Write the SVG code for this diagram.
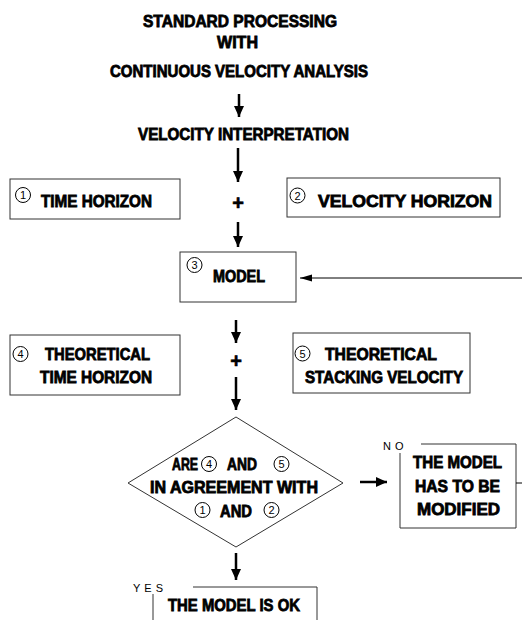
<svg xmlns="http://www.w3.org/2000/svg" width="525" height="620" viewBox="0 0 525 620">
<style>
.t{font-family:"Liberation Sans",Arial,sans-serif;font-weight:bold;font-size:16.5px;fill:#000;stroke:#000;stroke-width:0.8;}
.s{font-family:"Liberation Sans",Arial,sans-serif;font-size:11px;fill:#000;}
.n{font-family:"Liberation Sans",Arial,sans-serif;font-size:11px;fill:#000;text-anchor:middle;}
.b{fill:none;stroke:#333;stroke-width:1;}
.c{fill:none;stroke:#000;stroke-width:1;}
.a{stroke:#000;stroke-width:2.5;fill:none;}
.f{stroke:#000;stroke-width:1;fill:none;}
.p{font-family:"Liberation Sans",Arial,sans-serif;font-weight:bold;font-size:20px;fill:#000;stroke:#000;stroke-width:0.6;text-anchor:middle;}
</style>
<defs>
<marker id="ah" markerUnits="userSpaceOnUse" markerWidth="12" markerHeight="12" refX="11" refY="5" orient="auto">
<path d="M0,0 L11,5 L0,10 Z" fill="#000"/>
</marker>
<marker id="ahs" markerUnits="userSpaceOnUse" markerWidth="12" markerHeight="8" refX="12" refY="3.5" orient="auto">
<path d="M0,0 L12,3.5 L0,7 Z" fill="#000"/>
</marker>
</defs>
<rect width="525" height="620" fill="#fff"/>

<g id="start">
<text class="t" x="143" y="27" textLength="194" lengthAdjust="spacingAndGlyphs">STANDARD PROCESSING</text>
<text class="t" x="217" y="48" textLength="41" lengthAdjust="spacingAndGlyphs">WITH</text>
<text class="t" x="110" y="77" textLength="258" lengthAdjust="spacingAndGlyphs">CONTINUOUS VELOCITY ANALYSIS</text>
</g>

<g id="interp">
<text class="t" x="138" y="140" textLength="211" lengthAdjust="spacingAndGlyphs">VELOCITY INTERPRETATION</text>
</g>

<g id="n1">
<rect class="b" x="10" y="179" width="170" height="40"/>
<circle class="c" cx="23" cy="195" r="7.5"/>
<text class="n" x="23" y="199">1</text>
<text class="t" x="41" y="207" textLength="111" lengthAdjust="spacingAndGlyphs">TIME HORIZON</text>
</g>

<g id="n2">
<rect class="b" x="287" y="178" width="213" height="39"/>
<circle class="c" cx="297.5" cy="195.5" r="7.5"/>
<text class="n" x="297.5" y="199.5">2</text>
<text class="t" x="318" y="207" textLength="174" lengthAdjust="spacingAndGlyphs">VELOCITY HORIZON</text>
</g>

<g id="plus1"><text class="p" x="238" y="210">+</text></g>

<g id="n3">
<rect class="b" x="180" y="252" width="116" height="50"/>
<circle class="c" cx="194.5" cy="265" r="7.5"/>
<text class="n" x="194.5" y="269">3</text>
<text class="t" x="213" y="282" textLength="52" lengthAdjust="spacingAndGlyphs">MODEL</text>
</g>

<g id="n4">
<rect class="b" x="10" y="335" width="170" height="60"/>
<circle class="c" cx="20.5" cy="354" r="7.5"/>
<text class="n" x="20.5" y="358">4</text>
<text class="t" x="45" y="360" textLength="105" lengthAdjust="spacingAndGlyphs">THEORETICAL</text>
<text class="t" x="40" y="383" textLength="112" lengthAdjust="spacingAndGlyphs">TIME HORIZON</text>
</g>

<g id="n5">
<rect class="b" x="293" y="333" width="177" height="60"/>
<circle class="c" cx="302.5" cy="353.5" r="7.5"/>
<text class="n" x="302.5" y="357.5">5</text>
<text class="t" x="325" y="360" textLength="112" lengthAdjust="spacingAndGlyphs">THEORETICAL</text>
<text class="t" x="305" y="383" textLength="158" lengthAdjust="spacingAndGlyphs">STACKING VELOCITY</text>
</g>

<g id="plus2"><text class="p" x="236" y="368">+</text></g>

<g id="decision">
<path class="b" d="M236,417 L343,483 L236,547 L128,483 Z"/>
<text class="t" x="172" y="470" textLength="26" lengthAdjust="spacingAndGlyphs">ARE</text>
<circle class="c" cx="209" cy="464" r="7.5"/>
<text class="n" x="209" y="468">4</text>
<text class="t" x="227" y="470" textLength="30" lengthAdjust="spacingAndGlyphs">AND</text>
<circle class="c" cx="281.5" cy="464" r="7.5"/>
<text class="n" x="281.5" y="468">5</text>
<text class="t" x="150" y="493" textLength="168" lengthAdjust="spacingAndGlyphs">IN AGREEMENT WITH</text>
<circle class="c" cx="202.5" cy="510" r="7.5"/>
<text class="n" x="202.5" y="514">1</text>
<text class="t" x="220" y="517" textLength="32" lengthAdjust="spacingAndGlyphs">AND</text>
<circle class="c" cx="271.5" cy="510" r="7.5"/>
<text class="n" x="271.5" y="514">2</text>
</g>

<g id="modify">
<path class="b" d="M421,444 L516,444 L516,528 L400,528 L400,453"/>
<text class="t" x="413" y="468" textLength="89" lengthAdjust="spacingAndGlyphs">THE MODEL</text>
<text class="t" x="415" y="492" textLength="85" lengthAdjust="spacingAndGlyphs">HAS TO BE</text>
<text class="t" x="417" y="515" textLength="83" lengthAdjust="spacingAndGlyphs">MODIFIED</text>
</g>

<g id="ok">
<path class="b" d="M193,587 L317,587 L317,620 M153,594 L153,620"/>
<text class="t" x="168" y="611" textLength="132" lengthAdjust="spacingAndGlyphs">THE MODEL IS OK</text>
</g>

<g id="connectors">
<line class="a" x1="239" y1="94" x2="239" y2="117" marker-end="url(#ah)"/>
<line class="a" x1="238" y1="148" x2="238" y2="182" marker-end="url(#ah)"/>
<line class="a" x1="238" y1="222" x2="238" y2="247" marker-end="url(#ah)"/>
<line class="a" x1="236" y1="320" x2="236" y2="343" marker-end="url(#ah)"/>
<line class="a" x1="236" y1="377" x2="236" y2="410" marker-end="url(#ah)"/>
<line class="a" x1="360" y1="482" x2="387" y2="482" marker-end="url(#ah)"/>
<line class="a" x1="236" y1="553" x2="236" y2="580" marker-end="url(#ah)"/>
<line class="f" x1="522" y1="278" x2="300" y2="278" marker-end="url(#ahs)"/>
<line class="f" x1="516" y1="483" x2="522" y2="483"/>
<text class="s" x="383" y="450" letter-spacing="4">NO</text>
<text class="s" x="133" y="592" letter-spacing="4">YES</text>
</g>
</svg>
